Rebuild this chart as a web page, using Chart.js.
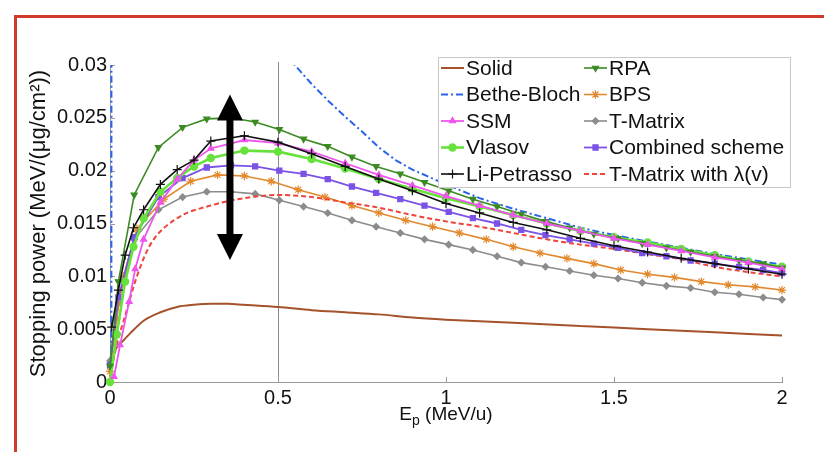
<!DOCTYPE html>
<html><head><meta charset="utf-8">
<script src="https://cdn.jsdelivr.net/npm/chart.js@4.4.1/dist/chart.umd.min.js"></script>
<style>
html,body{margin:0;padding:0;background:#fff;}
#wrap{position:relative;width:824px;height:452px;overflow:hidden;background:#fff;}
#frame{position:absolute;left:14px;top:15px;width:900px;height:500px;border-left:3px solid #cf3b2a;border-top:3px solid #cf3b2a;pointer-events:none;}
canvas{position:absolute;left:0;top:0;}
</style></head><body>
<div id="wrap"><canvas id="c" width="824" height="452"></canvas><div id="frame"></div></div>
<script>
// ---- data ----
const xTickLabels = ['0', '0.5', '1', '1.5', '2'];
const yTickLabels = ['0', '0.005', '0.01', '0.015', '0.02', '0.025', '0.03'];

const solidX = [0.015, 0.03, 0.06, 0.1, 0.15, 0.2, 0.25, 0.3, 0.35, 0.4, 0.5, 0.6, 0.7, 0.8, 0.9, 1.0, 1.2, 1.4, 1.6, 1.8, 2.0];
const solidY = [0.0031, 0.0036, 0.0046, 0.0058, 0.0066, 0.0071, 0.0073, 0.0074, 0.0074, 0.0073, 0.0071, 0.0068, 0.0066, 0.0064, 0.0061, 0.0059, 0.0056, 0.0053, 0.0050, 0.0047, 0.0044];

const bbX = [0.004, 0.0045, 0.5, 0.55, 0.6, 0.65, 0.7, 0.75, 0.8, 0.85, 0.9, 0.95, 1.0, 1.1, 1.2, 1.3, 1.4, 1.5, 1.6, 1.7, 1.8, 1.9, 2.0];
const bbY = [-0.01, 0.08, 0.0322, 0.0300, 0.0282, 0.0266, 0.0251, 0.0237, 0.0222, 0.0210, 0.0201, 0.0194, 0.0187, 0.0174, 0.0164, 0.0155, 0.0146, 0.0139, 0.0133, 0.0127, 0.0121, 0.0116, 0.0111];

const grid72X = [0, 0.025, 0.072, 0.144, 0.216, 0.288, 0.36, 0.432, 0.504, 0.576, 0.648, 0.72, 0.792, 0.864, 0.936, 1.008, 1.08, 1.152, 1.224, 1.296, 1.368, 1.44, 1.512, 1.584, 1.656, 1.728, 1.8, 1.872, 1.944, 2.0];
const rpaY = [0.0015, 0.0095, 0.0177, 0.0222, 0.0241, 0.0249, 0.0250, 0.0246, 0.0239, 0.0230, 0.0223, 0.0213, 0.0204, 0.0197, 0.0189, 0.0181, 0.0173, 0.0166, 0.0159, 0.0152, 0.0146, 0.0140, 0.0136, 0.0131, 0.0127, 0.0123, 0.0119, 0.0115, 0.0112, 0.0108];
const combinedY = [0.0016, 0.0080, 0.0137, 0.0175, 0.0193, 0.0203, 0.0205, 0.0204, 0.0200, 0.0197, 0.0192, 0.0185, 0.0179, 0.0173, 0.0167, 0.0161, 0.0155, 0.0150, 0.0144, 0.0139, 0.0135, 0.0131, 0.0127, 0.0122, 0.0119, 0.0115, 0.0112, 0.0109, 0.0106, 0.0103];
const tmatrixY = [0.0020, 0.0075, 0.0135, 0.0163, 0.0175, 0.0180, 0.0180, 0.0178, 0.0172, 0.0166, 0.0160, 0.0153, 0.0147, 0.0141, 0.0135, 0.0130, 0.0125, 0.0119, 0.0113, 0.0109, 0.0105, 0.0101, 0.0098, 0.0094, 0.0091, 0.0089, 0.0085, 0.0083, 0.0080, 0.0078];

const bpsX = [0, 0.02, 0.04, 0.08, 0.16, 0.24, 0.32, 0.40, 0.48, 0.56, 0.64, 0.72, 0.80, 0.88, 0.96, 1.04, 1.12, 1.20, 1.28, 1.36, 1.44, 1.52, 1.60, 1.68, 1.76, 1.84, 1.92, 2.00];
const bpsY = [0.0010, 0.0060, 0.0100, 0.0145, 0.0173, 0.0190, 0.0196, 0.0195, 0.0190, 0.0182, 0.0175, 0.0167, 0.0160, 0.0153, 0.0147, 0.0141, 0.0135, 0.0128, 0.0122, 0.0117, 0.0112, 0.0106, 0.0102, 0.0099, 0.0095, 0.0092, 0.0090, 0.0087];

const lpX = [0.005, 0.025, 0.045, 0.07, 0.1, 0.15, 0.2, 0.25, 0.3, 0.4, 0.5, 0.6, 0.7, 0.8, 0.9, 1.0, 1.1, 1.2, 1.3, 1.4, 1.5, 1.6, 1.7, 1.8, 1.9, 2.0];
const lpY = [0.0052, 0.0087, 0.0120, 0.0146, 0.0163, 0.0187, 0.0201, 0.0210, 0.0228, 0.0233, 0.0227, 0.0216, 0.0204, 0.0192, 0.0181, 0.0169, 0.0160, 0.0151, 0.0144, 0.0136, 0.0129, 0.0123, 0.0117, 0.0112, 0.0107, 0.0102];

const ssmX = [0.012, 0.03, 0.057, 0.075, 0.1, 0.15, 0.2, 0.25, 0.3, 0.4, 0.5, 0.6, 0.7, 0.8, 0.9, 1.0, 1.1, 1.2, 1.3, 1.4, 1.5, 1.6, 1.7, 1.8, 1.9, 2.0];
const ssmY = [0.0005, 0.0035, 0.0076, 0.0107, 0.0135, 0.0170, 0.0192, 0.0210, 0.0221, 0.0229, 0.0226, 0.0218, 0.0207, 0.0196, 0.0186, 0.0176, 0.0167, 0.0158, 0.0150, 0.0143, 0.0136, 0.0130, 0.0124, 0.0118, 0.0113, 0.0107];

const vlasovX = [0, 0.02, 0.045, 0.07, 0.1, 0.15, 0.2, 0.25, 0.3, 0.4, 0.5, 0.6, 0.7, 0.8, 0.9, 1.0, 1.1, 1.2, 1.3, 1.4, 1.5, 1.6, 1.7, 1.8, 1.9, 2.0];
const vlasovY = [0.0000, 0.0045, 0.0095, 0.0128, 0.0155, 0.0180, 0.0193, 0.0204, 0.0212, 0.0219, 0.0218, 0.0211, 0.0202, 0.0192, 0.0183, 0.0174, 0.0166, 0.0158, 0.0150, 0.0143, 0.0137, 0.0132, 0.0126, 0.0120, 0.0114, 0.0109];

const tlamX = [0, 0.02, 0.05, 0.08, 0.12, 0.2, 0.3, 0.4, 0.5, 0.6, 0.7, 0.8, 0.9, 1.0, 1.1, 1.2, 1.3, 1.4, 1.5, 1.6, 1.7, 1.8, 1.9, 2.0];
const tlamY = [0.0005, 0.0035, 0.0068, 0.0100, 0.0130, 0.0155, 0.0167, 0.0174, 0.0177, 0.0175, 0.0170, 0.0165, 0.0158, 0.0152, 0.0147, 0.0141, 0.0135, 0.0130, 0.0126, 0.0121, 0.0116, 0.0109, 0.0104, 0.0100];

const refLineX = 0.5;
const arrowX = 0.357, arrowTop = 0.0272, arrowBottom = 0.01155;

// ---- styles ----
const FONT = '"Liberation Sans", Arial, Helvetica, sans-serif';
const series = [
  {label: 'Solid', xs: solidX, ys: solidY, color: '#a5522b', width: 2, point: false, smooth: true},
  {label: 'RPA', xs: grid72X, ys: rpaY, color: '#3b8a22', width: 1.6, point: 'triangle', rot: 180, r: 3.5},
  {label: 'Bethe-Bloch', xs: bbX, ys: bbY, color: '#2a64ec', width: 2, point: false, dash: [7, 3, 2, 3], clip: true},
  {label: 'BPS', xs: bpsX, ys: bpsY, color: '#e2892e', width: 1.6, point: 'star', r: 4.2},
  {label: 'SSM', xs: ssmX, ys: ssmY, color: '#ee55ee', width: 1.8, point: 'triangle', r: 3.5},
  {label: 'T-Matrix', xs: grid72X, ys: tmatrixY, color: '#8c8c8c', width: 1.6, point: 'rectRot', r: 3.2},
  {label: 'Vlasov', xs: vlasovX, ys: vlasovY, color: '#66e23a', width: 2.6, point: 'circle', r: 3.6},
  {label: 'Combined scheme', xs: grid72X, ys: combinedY, color: '#7b52e6', width: 1.8, point: 'rect', r: 3.6},
  {label: 'Li-Petrasso', xs: lpX, ys: lpY, color: '#111111', width: 1.6, point: 'cross', r: 4.5},
  {label: 'T-Matrix with \u03bb(v)', xs: tlamX, ys: tlamY, color: '#f0433a', width: 2, point: false, dash: [5, 3], smooth: true}
];
const drawOrder = ['Li-Petrasso', 'SSM', 'RPA', 'Vlasov', 'Combined scheme', 'Bethe-Bloch', 'T-Matrix with \u03bb(v)', 'BPS', 'T-Matrix', 'Solid'];
const legendCols = [
  ['Solid', 'Bethe-Bloch', 'SSM', 'Vlasov', 'Li-Petrasso'],
  ['RPA', 'BPS', 'T-Matrix', 'Combined scheme', 'T-Matrix with \u03bb(v)']
];

const datasets = series.map(s => ({
  label: s.label,
  data: s.xs.map((x, i) => ({x: x, y: s.ys[i]})),
  borderColor: s.color,
  backgroundColor: s.color,
  borderWidth: s.width,
  borderDash: s.dash || [],
  pointStyle: s.point || 'circle',
  pointRadius: s.point ? s.r : 0,
  pointRotation: s.rot || 0,
  pointBorderWidth: 1.2,
  tension: 0,
  cubicInterpolationMode: s.smooth ? 'monotone' : 'default',
  clip: s.clip ? 0 : 8,
  order: drawOrder.indexOf(s.label),
  fill: false
}));

const decor = {
  id: 'decor',
  beforeDatasetsDraw(chart) {
    const {ctx, chartArea: a, scales: {x, y}} = chart;
    ctx.save();
    ctx.lineWidth = 1;
    ctx.strokeStyle = '#8a8a8a';
    const px = Math.round(x.getPixelForValue(refLineX)) + 0.5;
    ctx.beginPath(); ctx.moveTo(px, a.top - 3); ctx.lineTo(px, a.bottom); ctx.stroke();
    ctx.strokeStyle = '#999';
    y.ticks.forEach(t => {
      const p = Math.round(y.getPixelForValue(t.value)) + 0.5;
      ctx.beginPath(); ctx.moveTo(a.left, p); ctx.lineTo(a.left + 5, p); ctx.stroke();
    });
    x.ticks.forEach(t => {
      const p = Math.round(x.getPixelForValue(t.value)) + 0.5;
      ctx.beginPath(); ctx.moveTo(p, a.bottom); ctx.lineTo(p, a.bottom - 5); ctx.stroke();
    });
    ctx.restore();
  },
  afterDatasetsDraw(chart) {
    const {ctx, chartArea: a, scales: {x, y}} = chart;
    ctx.save();
    // double-headed arrow
    const ax = x.getPixelForValue(arrowX), y1 = y.getPixelForValue(arrowTop), y2 = y.getPixelForValue(arrowBottom);
    const hl = 26, hw = 13, sw = 3.5;
    ctx.fillStyle = '#000';
    ctx.beginPath();
    ctx.moveTo(ax, y1); ctx.lineTo(ax + hw, y1 + hl); ctx.lineTo(ax + sw, y1 + hl);
    ctx.lineTo(ax + sw, y2 - hl); ctx.lineTo(ax + hw, y2 - hl); ctx.lineTo(ax, y2);
    ctx.lineTo(ax - hw, y2 - hl); ctx.lineTo(ax - sw, y2 - hl); ctx.lineTo(ax - sw, y1 + hl);
    ctx.lineTo(ax - hw, y1 + hl); ctx.closePath(); ctx.fill();

    // legend
    const bx = 438, by = 57, bw = 352, bh = 130;
    ctx.fillStyle = '#fff';
    ctx.fillRect(bx, by, bw, bh);
    ctx.strokeStyle = '#c8c8c8'; ctx.lineWidth = 1;
    ctx.strokeRect(bx + 0.5, by + 0.5, bw, bh);
    const rowY = [68, 94.5, 121, 147.5, 174];
    const colX = [441, 584];
    ctx.font = '21px ' + FONT;
    ctx.textBaseline = 'middle';
    ctx.textAlign = 'left';
    legendCols.forEach((col, ci) => {
      col.forEach((lab, ri) => {
        const s = series.find(q => q.label === lab);
        const lx = colX[ci], ly = rowY[ri];
        ctx.save();
        ctx.strokeStyle = s.color; ctx.fillStyle = s.color;
        ctx.lineWidth = s.width;
        ctx.setLineDash(s.dash || []);
        ctx.beginPath(); ctx.moveTo(lx, ly); ctx.lineTo(lx + 23, ly); ctx.stroke();
        ctx.setLineDash([]);
        if (s.point) {
          ctx.lineWidth = 1.2;
          Chart.helpers.drawPoint(ctx, {pointStyle: s.point, radius: s.r, rotation: s.rot || 0, borderWidth: 1.2}, lx + 11.5, ly);
        }
        ctx.restore();
        ctx.fillStyle = '#111';
        ctx.fillText(lab, lx + 25, ly + 1);
      });
    });

    // x axis title with subscript
    const cx = (a.left + a.right) / 2, base = 420;
    ctx.textBaseline = 'alphabetic';
    ctx.fillStyle = '#111';
    ctx.font = '19px ' + FONT;
    const wE = ctx.measureText('E').width;
    const rest = ' (MeV/u)';
    const wR = ctx.measureText(rest).width;
    ctx.font = '14px ' + FONT;
    const wP = ctx.measureText('p').width;
    let sx = cx - (wE + wP + wR) / 2;
    ctx.font = '19px ' + FONT;
    ctx.fillText('E', sx, base);
    ctx.font = '14px ' + FONT;
    ctx.fillText('p', sx + wE, base + 5);
    ctx.font = '19px ' + FONT;
    ctx.fillText(rest, sx + wE + wP, base);
    ctx.restore();
  }
};

Chart.defaults.color = '#111';
Chart.defaults.font.family = FONT;

new Chart(document.getElementById('c'), {
  type: 'line',
  data: {datasets},
  options: {
    responsive: false,
    animation: false,
    devicePixelRatio: 1,
    layout: {padding: {left: 22, right: 42, top: 65, bottom: 0}},
    plugins: {legend: {display: false}, tooltip: {enabled: false}},
    scales: {
      x: {
        type: 'linear', min: 0, max: 2,
        afterFit: s => { s.height = 70; },
        grid: {display: false, drawTicks: false},
        border: {display: true, color: '#999', width: 1},
        ticks: {stepSize: 0.5, padding: 4, font: {size: 20}, maxRotation: 0,
          callback: (v, i) => xTickLabels[i]}
      },
      y: {
        type: 'linear', min: 0, max: 0.03,
        afterFit: s => { s.width = 88; },
        grid: {display: false, drawTicks: false},
        border: {display: true, color: '#999', width: 1},
        ticks: {stepSize: 0.005, padding: 3, font: {size: 20},
          callback: (v, i) => yTickLabels[i]},
        title: {display: true, text: 'Stopping power (MeV/(\u03bcg/cm\u00b2))', font: {size: 22}, color: '#111', padding: {top: 4, bottom: 4}}
      }
    }
  },
  plugins: [decor]
});
</script>
</body></html>
